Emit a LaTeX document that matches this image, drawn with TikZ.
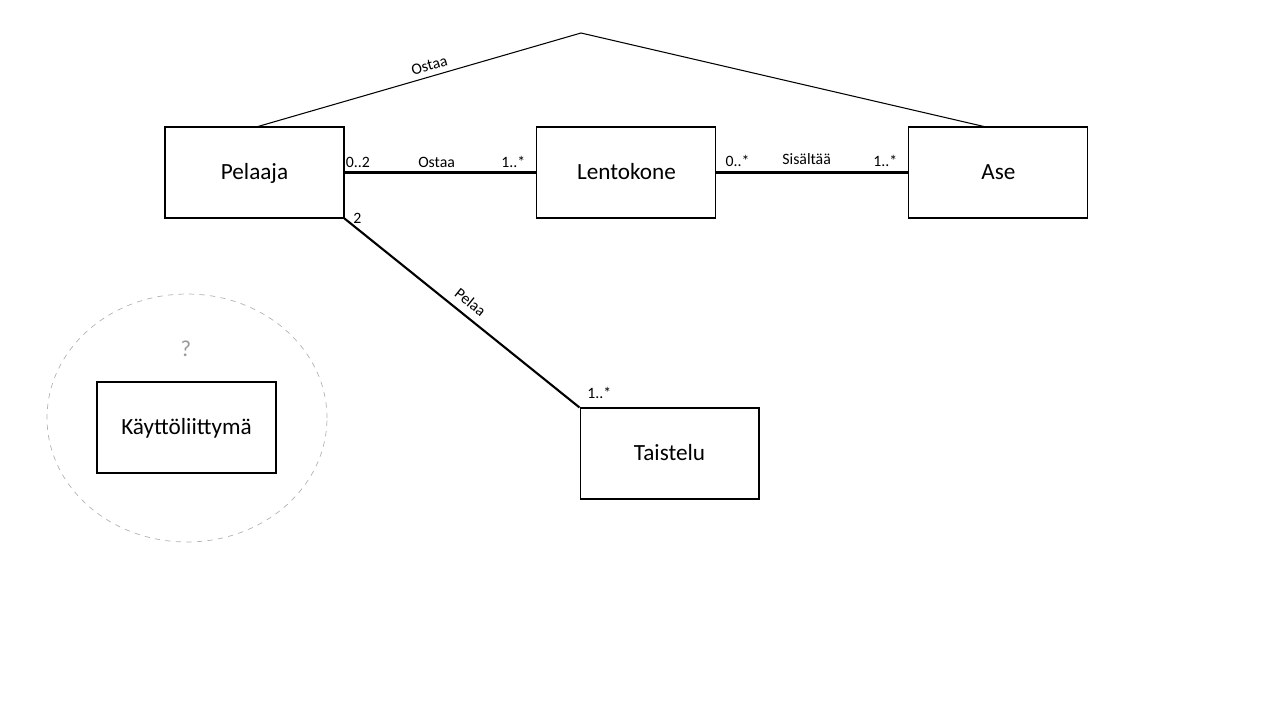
\documentclass[tikz,border=0pt]{standalone}
\usepackage{fontspec}
\setmainfont{Carlito}
\usetikzlibrary{positioning,shapes.geometric}

\begin{document}
\begin{tikzpicture}[x=0.02cm,y=-0.02cm,
    node distance=7.44cm,on grid,
    class/.style={draw,line width=0.6pt,minimum width=3.58cm,minimum height=1.82cm,
      text height=10.5pt,text depth=2.5pt,font=\fontsize{13.2}{15}\selectfont},
    every edge/.style={draw,line width=1.2pt},
    lbl/.style={font=\fontsize{9}{10}\selectfont,inner sep=1pt}]
    \useasboundingbox (0,0) rectangle (1280,720);
    \node[class] (pelaaja) at (254.5,172.5) {Pelaaja};
    \node[class] (lentokone) [right=of pelaaja] {Lentokone};
    \node[class] (ase) [right=of lentokone] {Ase};
    \node[class] (taistelu) at (669.5,453.5) {Taistelu};
    % kayttoliittyma, ei viela kytketty
    \node[draw,ellipse,dashed,gray!60,minimum width=5.6cm,minimum height=4.96cm] (ui) at (187,418) {};
    \node[text=gray!80,font=\fontsize{13}{15}\selectfont] (kysymys) at (186,349) {?};
    \node[class] (kali) at (186.5,427.5) {Käyttöliittymä};
    \coordinate (huippu) at (581,33);
    \coordinate (p1) at ([xshift=0.07cm]pelaaja.north);
    \coordinate (a1) at ([xshift=-0.29cm]ase.north);
    \draw[line width=0.6pt] (p1) -- node[lbl,pos=0.54,sloped,above=2pt] {Ostaa} (huippu) -- (a1);
    \path
    (pelaaja) edge node[lbl,pos=0.07,above=1pt] {0..2}
      node[lbl,pos=0.48,above=1pt] {Ostaa}
      node[lbl,pos=0.88,above=1pt] {1..*} (lentokone)
    (lentokone) edge node[lbl,pos=0.11,above=2pt] {0..*}
      node[lbl,pos=0.47,above=3pt] {Sisältää}
      node[lbl,pos=0.88,above=2pt] {1..*} (ase)
    (pelaaja.south east) edge node[lbl,at start,anchor=west,xshift=0.12cm] {2}
      node[lbl,pos=0.5,sloped,above=3pt] {Pelaa}
      node[lbl,at end,anchor=south west,xshift=0.1cm,yshift=0.12cm] {1..*} (taistelu.north west);
\end{tikzpicture}
\end{document}
